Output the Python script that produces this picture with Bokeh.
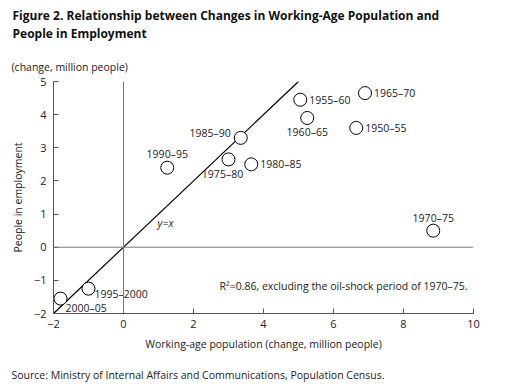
from bokeh.plotting import figure
from bokeh.models import ColumnDataSource, Label, Span, FixedTicker, Title
from bokeh.embed import file_html
from bokeh.resources import INLINE

# ---- data ----
periods = ["1950–55", "1955–60", "1960–65", "1965–70", "1970–75", "1975–80",
           "1980–85", "1985–90", "1990–95", "1995–2000", "2000–05"]
working_age = [6.65, 5.05, 5.25, 6.9, 8.85, 3.0, 3.65, 3.35, 1.25, -1.0, -1.8]
employment = [3.6, 4.45, 3.9, 4.65, 0.5, 2.65, 2.5, 3.3, 2.4, -1.25, -1.55]
line_x = [-2, 5]
line_y = [-2, 5]
x_ticks = [-2, 0, 2, 4, 6, 8, 10]
y_ticks = [-2, -1, 0, 1, 2, 3, 4, 5]

# ---- label layout (styling) ----
lab_align = ["left", "left", "center", "left", "center", "center",
             "left", "right", "center", "left", "left"]
lab_dx = [9, 9, 0, 9, 0, -6, 9, -10, 0, 6, 5]
lab_dy = [0, 0, 14, 0, -13, 15, 0, -5, -14, 5, 9]

FONT = "Open Sans"
FS = "10.5px"
TXT = "#222222"

p = figure(width=512, height=384, x_range=(-2, 10), y_range=(-2, 5),
           output_backend="svg", toolbar_location=None, title_location=None,
           min_border_left=53, min_border_right=39,
           min_border_top=81, min_border_bottom=71)
p.outline_line_color = None
p.xgrid.visible = False
p.ygrid.visible = False

def minus(v):
    return ("−" + str(abs(v))) if v < 0 else str(v)

for ax, ticks in ((p.xaxis, x_ticks), (p.yaxis, y_ticks)):
    ax.ticker = FixedTicker(ticks=ticks)
    ax.major_label_overrides = {t: minus(t) for t in ticks}
    ax.major_tick_in = 5
    ax.major_tick_out = 0
    ax.minor_tick_line_color = None
    ax.axis_line_color = "#555555"
    ax.major_tick_line_color = "#555555"
    ax.major_label_text_font = FONT
    ax.major_label_text_font_size = "11px"
    ax.major_label_text_color = TXT
    ax.axis_label_text_font = FONT
    ax.axis_label_text_font_size = FS
    ax.axis_label_text_font_style = "normal"
    ax.axis_label_text_color = TXT

p.xaxis.axis_label = "Working-age population (change, million people)"
p.yaxis.axis_label = "People in employment"
p.xaxis.major_label_standoff = 6
p.yaxis.major_label_standoff = 7
p.xaxis.axis_label_standoff = 6
p.yaxis.axis_label_standoff = 6

p.add_layout(Span(location=0, dimension="height", line_color="#777777", line_width=1))
p.add_layout(Span(location=0, dimension="width", line_color="#777777", line_width=1))

p.line(line_x, line_y, line_color="black", line_width=1.2)

src = ColumnDataSource(dict(x=working_age, y=employment, t=periods,
                            align=lab_align, dx=lab_dx, dy=lab_dy))
p.scatter("x", "y", source=src, size=13, marker="circle",
          fill_color="white", line_color="black", line_width=1)
p.text("x", "y", text="t", source=src, text_align="align", x_offset="dx",
       y_offset="dy", text_baseline="middle", text_font={"value": FONT},
       text_font_size=FS, text_color=TXT)

p.add_layout(Label(x=1.2, y=0.72, text="y=x", text_font=FONT, text_font_size=FS,
                   text_font_style="italic", text_align="center", text_baseline="middle",
                   text_color=TXT))
p.add_layout(Label(x=9.83, y=-1.18, text="R²=0.86, excluding the oil-shock period of 1970–75.",
                   text_font=FONT, text_font_size=FS, text_align="right",
                   text_baseline="middle", text_color=TXT))

# headings and notes as titles (first added = nearest the frame)
p.add_layout(Title(text="(change, million people)", align="left", offset=-42,
                   standoff=16, text_font=FONT, text_font_size=FS,
                   text_font_style="normal", text_color=TXT), "above")
p.add_layout(Title(text="People in Employment", align="left", offset=-41,
                   standoff=15, text_font=FONT, text_font_size="12px",
                   text_font_style="bold", text_color="#111111"), "above")
p.add_layout(Title(text="Figure 2. Relationship between Changes in Working-Age Population and",
                   align="left", offset=-41, standoff=-16, text_font=FONT,
                   text_font_size="12px", text_font_style="bold",
                   text_color="#111111"), "above")
p.add_layout(Title(text="\nSource: Ministry of Internal Affairs and Communications, Population Census.",
                   align="left", offset=-42, standoff=-4, text_font=FONT,
                   text_font_size=FS, text_font_style="normal", text_color=TXT), "below")

open("out.html", "w").write(file_html(p, INLINE))
